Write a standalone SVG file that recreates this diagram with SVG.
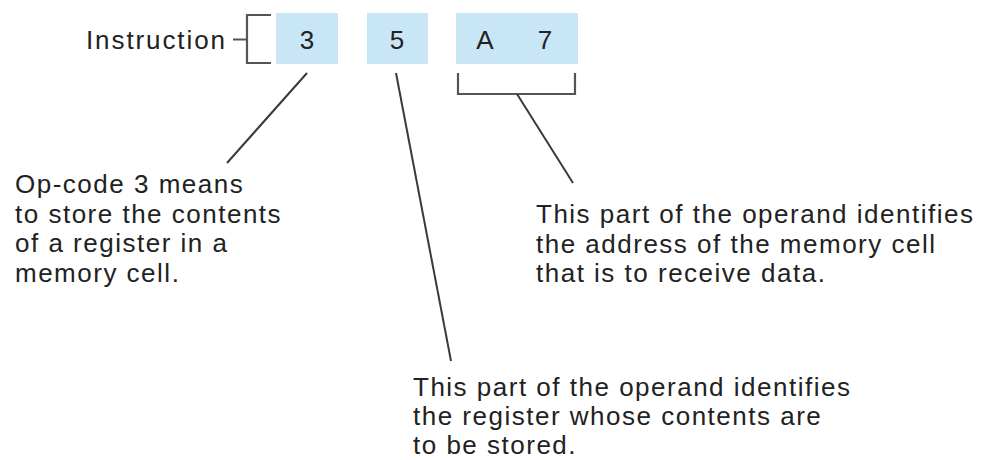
<svg xmlns="http://www.w3.org/2000/svg" width="987" height="460" viewBox="0 0 987 460">
<style>
text{font-family:"Liberation Sans",Arial,sans-serif;font-size:26px;fill:#222;letter-spacing:1.5px}
.c{text-anchor:middle;letter-spacing:0}
.box{fill:#c9e6f7}
.ln{stroke:#3a3a3a;stroke-width:2;fill:none}
.br{stroke:#555;stroke-width:2.2;fill:none}
</style>
<rect width="987" height="460" fill="#fff"/>
<g id="instruction">
<text x="86" y="49" style="letter-spacing:1.9px">Instruction</text>
<path class="br" d="M233 39.5H247M271 15H247V63H271"/>
</g>
<g id="opcode">
<rect class="box" x="276" y="13" width="62" height="51"/>
<text class="c" x="307" y="49">3</text>
</g>
<g id="register">
<rect class="box" x="367" y="13" width="61" height="51"/>
<text class="c" x="397" y="49">5</text>
</g>
<g id="address">
<rect class="box" x="456" y="13" width="122" height="51"/>
<text class="c" x="485" y="49">A</text>
<text class="c" x="545" y="49">7</text>
<path class="br" d="M458 73V94H575V73"/>
</g>
<g id="connectors">
<line class="ln" x1="307" y1="73" x2="227" y2="163"/>
<line class="ln" x1="396" y1="73" x2="451" y2="361"/>
<line class="ln" x1="517" y1="94" x2="573" y2="183"/>
</g>
<g id="note-opcode">
<text x="15" y="193">Op-code 3 means</text>
<text x="15" y="222.5">to store the contents</text>
<text x="15" y="252">of a register in a</text>
<text x="15" y="282">memory cell.</text>
</g>
<g id="note-address">
<text x="536" y="223">This part of the operand identifies</text>
<text x="536" y="253">the address of the memory cell</text>
<text x="536" y="282">that is to receive data.</text>
</g>
<g id="note-register">
<text x="413" y="396">This part of the operand identifies</text>
<text x="413" y="425">the register whose contents are</text>
<text x="413" y="454">to be stored.</text>
</g>
</svg>
